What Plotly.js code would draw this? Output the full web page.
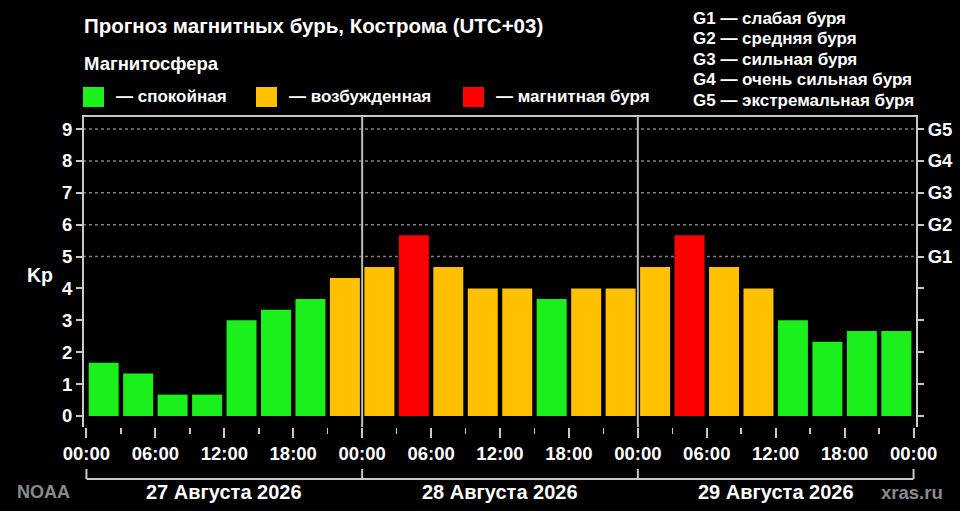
<!DOCTYPE html>
<html>
<head>
<meta charset="utf-8">
<script src="https://cdn.plot.ly/plotly-3.0.1.min.js"></script>
<style>html,body{margin:0;padding:0;background:#000;}#chart{width:960px;height:511px;}</style>
</head>
<body>
<div id="chart"></div>
<script>
// ---- data ----
const kpValues = [1.67, 1.33, 0.67, 0.67, 3.00, 3.33, 3.67, 4.33,
                  4.67, 5.67, 4.67, 4.00, 4.00, 3.67, 4.00, 4.00,
                  4.67, 5.67, 4.67, 4.00, 3.00, 2.33, 2.67, 2.67];
const xTickLabels = ['00:00','06:00','12:00','18:00','00:00','06:00','12:00','18:00','00:00','06:00','12:00','18:00','00:00'];
const dayLabels = ['27 Августа 2026', '28 Августа 2026', '29 Августа 2026'];
const yTicks = [0,1,2,3,4,5,6,7,8,9];
const gLevels = [5,6,7,8,9];
const gLabels = ['G1','G2','G3','G4','G5'];
const gLegend = ['G1 — слабая буря','G2 — средняя буря','G3 — сильная буря','G4 — очень сильная буря','G5 — экстремальная буря'];
const categoryNames = ['— спокойная','— возбужденная','— магнитная буря'];
const categoryColors = ['#1cf01c','#ffc000','#ff0000'];
const chartTitle = 'Прогноз магнитных бурь, Кострома (UTC+03)';

// ---- layout helpers ----
const W=960, H=511, L=83, R=43, T=116, B=84;
const pw = W-L-R, ph = H-T-B;
const px = x => (x-L)/pw;
const py = y => (H-B-y)/ph;
const FONT = 'Liberation Sans, Arial, sans-serif';
const f = (s, c) => ({family: FONT, size: s, color: c || '#ffffff', weight: 'bold'});

const cat = v => v >= 5 ? 2 : (v >= 4 ? 1 : 0);
const xs = kpValues.map((_, i) => i + 0.5);
const colors = kpValues.map(v => categoryColors[cat(v)]);

const traces = [
  {type:'bar', x: xs, y: kpValues, width: 0.87, marker:{color: colors, line:{width:0}}, hoverinfo:'y', showlegend:false},
  {type:'scatter', mode:'none', x: xs, y: kpValues, yaxis:'y2', hoverinfo:'skip', showlegend:false}
];

const shapes = [];
// frame
shapes.push({type:'path', xref:'paper', yref:'paper', path:'M 0,0 L 0,1 L 1,1 L 1,0', line:{color:'#c8c8c8', width:2}});
// G grid lines
gLevels.forEach(g => shapes.push({type:'line', xref:'paper', yref:'y', x0:0, x1:1, y0:g, y1:g, line:{color:'#808080', width:1.5, dash:'dot'}, layer:'below'}));
// day dividers
[8,16].forEach(d => shapes.push({type:'line', xref:'x', yref:'paper', x0:d, x1:d, y0:0, y1:1, line:{color:'#bdbdbd', width:2}}));
// date bracket
shapes.push({type:'line', xref:'x', yref:'paper', x0:0, x1:24, y0:py(479), y1:py(479), line:{color:'#c8c8c8', width:2}});
[0,8,16,24].forEach(d => shapes.push({type:'line', xref:'x', yref:'paper', x0:d, x1:d, y0:py(469), y1:py(479), line:{color:'#c8c8c8', width:2}}));
// legend squares
const legX = [83, 256, 463];
const legTextX = [114, 287, 494];
categoryColors.forEach((c, i) => shapes.push({type:'rect', xref:'paper', yref:'paper', x0:px(legX[i]), x1:px(legX[i]+21), y0:py(107), y1:py(87), fillcolor:c, line:{width:0}}));

const ann = [];
ann.push({xref:'paper', yref:'paper', x:px(82), y:py(25), xanchor:'left', yanchor:'middle', text:chartTitle, showarrow:false, font:f(20.5)});
ann.push({xref:'paper', yref:'paper', x:px(82), y:py(64), xanchor:'left', yanchor:'middle', text:'Магнитосфера', showarrow:false, font:f(18.5)});
categoryNames.forEach((t, i) => ann.push({xref:'paper', yref:'paper', x:px(legTextX[i]), y:py(97), xanchor:'left', yanchor:'middle', text:t, showarrow:false, font:f(17)}));
gLegend.forEach((t, i) => ann.push({xref:'paper', yref:'paper', x:px(691), y:py(18 + i*20.5), xanchor:'left', yanchor:'middle', text:t, showarrow:false, font:f(17)}));
ann.push({xref:'paper', yref:'paper', x:px(40), y:py(275), xanchor:'center', yanchor:'middle', text:'Kp', showarrow:false, font:f(19.5)});
dayLabels.forEach((t, i) => ann.push({xref:'x', yref:'paper', x:4 + i*8, y:py(492), xanchor:'center', yanchor:'middle', text:t, showarrow:false, font:f(20)}));
ann.push({xref:'paper', yref:'paper', x:px(43), y:py(492), xanchor:'center', yanchor:'middle', text:'NOAA', showarrow:false, font:f(18,'#8a8a8a')});
ann.push({xref:'paper', yref:'paper', x:px(912), y:py(492), xanchor:'center', yanchor:'middle', text:'xras.ru', showarrow:false, font:f(18.5,'#8a8a8a')});

const layout = {
  width: W, height: H,
  margin: {l:L, r:R, t:T, b:B, pad:0},
  paper_bgcolor:'#000000', plot_bgcolor:'#000000',
  showlegend:false,
  xaxis: {
    range:[-0.1, 24.1], showgrid:false, zeroline:false, showline:false,
    tickmode:'array', tickvals: xTickLabels.map((_, i) => i*2), ticktext: xTickLabels,
    ticks:'outside', ticklen:10, tickwidth:2, tickcolor:'#c8c8c8',
    tickfont: f(18.5),
    minor: {tickmode:'linear', tick0:0, dtick:1, ticks:'outside', ticklen:6, tickwidth:1.5, tickcolor:'#c8c8c8', showgrid:false}
  },
  yaxis: {
    range:[-0.345, 9.41], showgrid:false, zeroline:false, showline:false,
    tickmode:'array', tickvals: yTicks, ticktext: yTicks.map(String),
    ticks:'outside', ticklen:6, tickwidth:2, tickcolor:'#c8c8c8',
    tickfont: f(18.5)
  },
  yaxis2: {
    overlaying:'y', side:'right', range:[-0.345, 9.41], showgrid:false, zeroline:false, showline:false,
    tickmode:'array', tickvals: yTicks, ticktext: yTicks.map(v => { const k = gLevels.indexOf(v); return k >= 0 ? gLabels[k] : ''; }),
    ticks:'outside', ticklen:6, tickwidth:2, tickcolor:'#c8c8c8',
    tickfont: f(18.5)
  },
  shapes: shapes,
  annotations: ann
};

Plotly.newPlot('chart', traces, layout, {displayModeBar:false, staticPlot:true});
</script>
</body>
</html>
